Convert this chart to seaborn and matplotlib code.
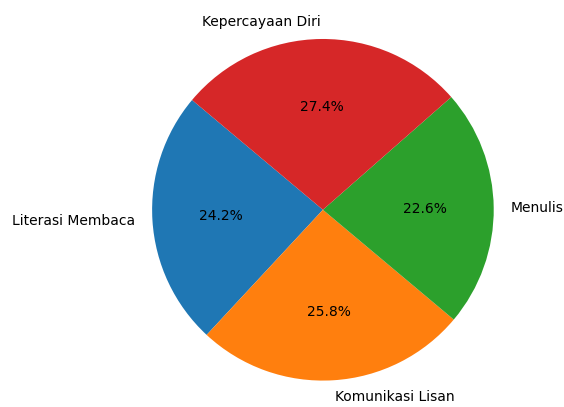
import matplotlib
matplotlib.use('Agg')
import matplotlib.pyplot as plt
import seaborn as sns

labels = ['Literasi Membaca', 'Komunikasi Lisan', 'Menulis', 'Kepercayaan Diri']
counts = [15, 16, 14, 17]

colors = sns.color_palette('tab10', 4)

fig = plt.figure(figsize=(5.64, 4.07), dpi=100)
ax = fig.add_axes([0.194, -0.04, 427 / 564, 427 / 407])
ax.pie(counts, labels=labels, colors=colors, autopct='%1.1f%%', startangle=140)
ax.set_aspect('equal')
fig.savefig('out.png', dpi=100)
